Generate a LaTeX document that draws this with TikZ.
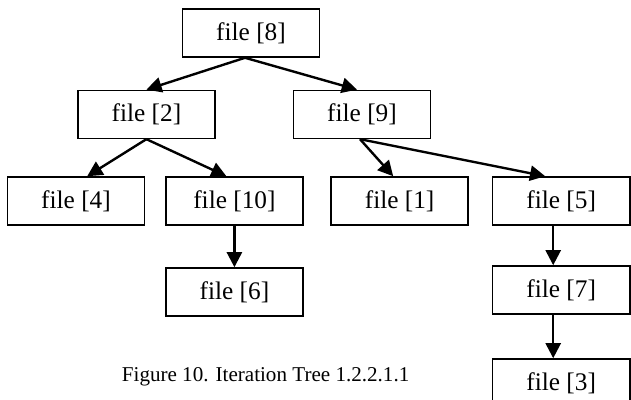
\documentclass[tikz,border=0pt]{standalone}
\usepackage{fontspec}
\setmainfont{Liberation Serif}
\usepackage{tikz}
\usetikzlibrary{arrows.meta}

\begin{document}
\begin{tikzpicture}[
  >={Triangle[length=0.38cm, width=0.38cm]},
  file/.style={draw, line width=1.1pt, align=center, font=\fontsize{18}{21}\selectfont,
               minimum width=3.43cm, minimum height=1.2cm, inner sep=0pt},
  arr/.style={->, line width=1.7pt},
]
\clip (0,0) rectangle (15.775,-10);

\node[file] (f8) at (6.275,-0.825) {file [8]};

\node[file] (f2) at (3.66,-2.86) {file [2]};
\node[file] (f9) at (9.05,-2.86) {file [9]};

\node[file] (f4)  at (1.9,-5.025)  {file [4]};
\node[file] (f10) at (5.86,-5.025) {file [10]};
\node[file] (f1)  at (9.99,-5.025) {file [1]};
\node[file] (f5)  at (14.03,-5.025) {file [5]};

\node[file] (f6) at (5.86,-7.3)  {file [6]};
\node[file] (f7) at (14.03,-7.25) {file [7]};
\node[file] (f3) at (14.03,-9.575) {file [3]};

\node[font=\fontsize{15}{18}\selectfont] (cap) at (6.64,-9.425)
  {Figure 10. Iteration Tree 1.2.2.1.1};

\draw[arr] ([xshift=-0.15cm]f8.south) -- (f2.north);
\draw[arr] ([xshift=-0.15cm]f8.south) -- ([xshift=-0.125cm]f9.north);

\draw[arr] (f2.south) -- ([xshift=0.28cm]f4.north);
\draw[arr] (f2.south) -- ([xshift=-0.2cm]f10.north);

\draw[arr] ([xshift=-0.05cm]f9.south) -- ([xshift=-0.16cm]f1.north);
\draw[arr] ([xshift=-0.05cm]f9.south) -- ([xshift=-0.4cm]f5.north);

\draw[arr] (f10.south) -- (f6.north);
\draw[arr] ([xshift=-0.2cm]f5.south) -- ([xshift=-0.2cm]f7.north);
\draw[arr] ([xshift=-0.2cm]f7.south) -- ([xshift=-0.2cm]f3.north);
\end{tikzpicture}
\end{document}
